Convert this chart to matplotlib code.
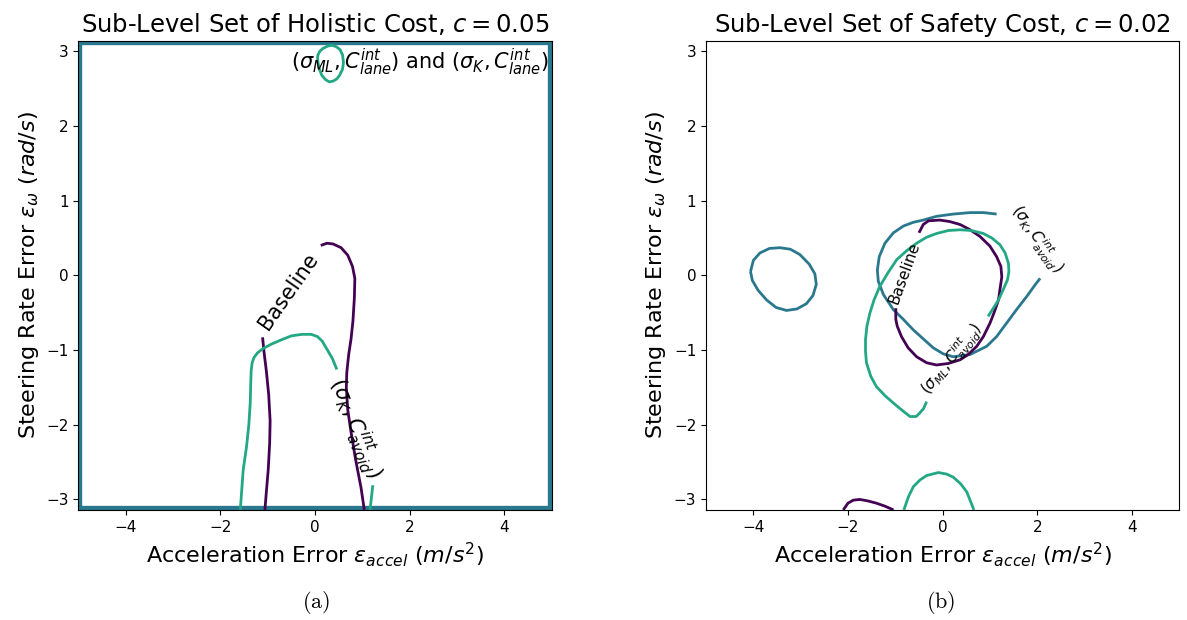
import numpy as np
import matplotlib
matplotlib.use("Agg")
import matplotlib.pyplot as plt

# ── Colours (viridis levels) ──────────────────────────────────────────────────
C_BASE = "#440154"   # Baseline
C_K = "#2a788e"      # sigma_K
C_ML = "#22a884"     # sigma_ML

XLIM = (-5, 5)
YLIM = (-np.pi, np.pi)

# ── (a) Holistic cost, c = 0.05 ───────────────────────────────────────────────
a_base1_x = [-1.06, -1.03, -0.99, -0.96, -0.95, -0.98, -1.03, -1.08, -1.11]
a_base1_y = [-3.14, -2.90, -2.60, -2.25, -1.95, -1.60, -1.28, -1.02, -0.83]
a_base2_x = [0.12, 0.25, 0.38, 0.55, 0.69, 0.79, 0.84, 0.83, 0.80, 0.76,
             0.71, 0.67, 0.66, 0.69, 0.76, 0.86, 0.97, 1.04]
a_base2_y = [0.40, 0.43, 0.42, 0.37, 0.27, 0.12, -0.04, -0.30, -0.61, -0.85,
             -1.06, -1.30, -1.50, -1.80, -2.10, -2.48, -2.84, -3.14]

a_green1_x = [-1.58, -1.52, -1.45, -1.40, -1.37, -1.36, -1.35, -1.33, -1.29, -1.22,
              -1.10, -0.92, -0.70, -0.50, -0.28, -0.08, 0.05, 0.15, 0.27, 0.37, 0.46]
a_green1_y = [-3.14, -2.61, -2.30, -2.00, -1.70, -1.45, -1.27, -1.17, -1.10, -1.04,
              -0.98, -0.92, -0.86, -0.81, -0.79, -0.79, -0.82, -0.88, -1.01, -1.12, -1.26]
a_green2_x = [1.22, 1.19, 1.16]
a_green2_y = [-2.81, -2.98, -3.14]

a_loop_x = [0.05, 0.08, 0.14, 0.22, 0.30, 0.38, 0.46, 0.52, 0.58, 0.60, 0.58,
            0.53, 0.45, 0.36, 0.27, 0.17, 0.10, 0.06, 0.05]
a_loop_y = [2.90, 2.78, 2.68, 2.62, 2.59, 2.60, 2.63, 2.68, 2.76, 2.85, 2.95,
            3.02, 3.06, 3.08, 3.07, 3.04, 3.00, 2.95, 2.90]

# teal contour sits on the domain boundary
a_box_x = [-5, 5, 5, -5, -5]
a_box_y = [-np.pi, -np.pi, np.pi, np.pi, -np.pi]

# ── (b) Safety cost, c = 0.02 ─────────────────────────────────────────────────
b_kloop_x = [-4.06, -4.00, -3.86, -3.66, -3.44, -3.22, -3.02, -2.82, -2.70, -2.67,
             -2.74, -2.88, -3.08, -3.30, -3.52, -3.72, -3.90, -4.02, -4.06]
b_kloop_y = [0.05, 0.20, 0.30, 0.36, 0.37, 0.35, 0.28, 0.15, 0.02, -0.12,
             -0.27, -0.38, -0.45, -0.47, -0.43, -0.33, -0.20, -0.07, 0.05]

b_k_x = [1.14, 0.86, 0.58, 0.22, -0.13, -0.41, -0.62, -0.83, -1.04, -1.22,
         -1.34, -1.38, -1.36, -1.25, -1.04, -0.83, -0.62, -0.41, -0.20, 0.01,
         0.22, 0.58, 0.93, 1.14, 1.35, 1.56, 1.78, 1.95, 2.06]
b_k_y = [0.82, 0.84, 0.84, 0.82, 0.79, 0.74, 0.71, 0.66, 0.57, 0.43,
         0.25, 0.07, -0.08, -0.26, -0.46, -0.59, -0.73, -0.85, -0.97, -1.05,
         -1.09, -1.06, -0.95, -0.82, -0.64, -0.46, -0.28, -0.13, -0.04]

b_base_x = [-0.50, -0.41, -0.30, -0.06, 0.15, 0.37, 0.58, 0.79, 1.00, 1.14,
            1.23, 1.25, 1.21, 1.18, 1.08, 1.00, 0.86, 0.72, 0.54, 0.37,
            0.12, -0.13, -0.34, -0.55, -0.73, -0.87, -0.96, -0.99, -0.99]
b_base_y = [0.57, 0.68, 0.73, 0.74, 0.72, 0.68, 0.61, 0.52, 0.39, 0.25,
            0.12, -0.02, -0.19, -0.33, -0.51, -0.64, -0.82, -0.95, -1.06, -1.13,
            -1.18, -1.20, -1.17, -1.09, -0.97, -0.82, -0.68, -0.59, -0.44]

b_ml_x = [0.96, 1.07, 1.18, 1.28, 1.37, 1.40, 1.39, 1.32, 1.21, 1.04,
          0.86, 0.61, 0.37, 0.12, -0.13, -0.34, -0.55, -0.76, -0.97, -1.15,
          -1.33, -1.45, -1.54, -1.60, -1.63, -1.63, -1.61, -1.52, -1.40, -1.22,
          -1.04, -0.87, -0.69, -0.56, -0.48, -0.40, -0.34]
b_ml_y = [-0.55, -0.44, -0.33, -0.19, -0.06, 0.05, 0.16, 0.30, 0.41, 0.50,
          0.56, 0.60, 0.61, 0.60, 0.56, 0.51, 0.43, 0.33, 0.21, 0.04,
          -0.15, -0.33, -0.51, -0.68, -0.86, -1.02, -1.17, -1.35, -1.49, -1.61,
          -1.71, -1.80, -1.89, -1.89, -1.84, -1.78, -1.69]

b_base_bot_x = [-2.10, -2.00, -1.89, -1.75, -1.58, -1.40, -1.22, -1.04]
b_base_bot_y = [-3.14, -3.05, -3.01, -3.00, -3.02, -3.05, -3.09, -3.14]

b_ml_bot_x = [-0.82, -0.72, -0.62, -0.48, -0.34, -0.09, 0.08, 0.22, 0.38, 0.51, 0.66]
b_ml_bot_y = [-3.14, -2.96, -2.83, -2.74, -2.68, -2.64, -2.66, -2.70, -2.79, -2.90, -3.14]

LBL_K_AVOID = r"$(\sigma_K, C^{int}_{avoid})$"
LBL_ML_AVOID = r"$(\sigma_{ML}, C^{int}_{avoid})$"
LBL_LANE = r"$(\sigma_{ML}, C^{int}_{lane})$ and $(\sigma_K, C^{int}_{lane})$"

# ── Plot ──────────────────────────────────────────────────────────────────────
fig = plt.figure(figsize=(11.87, 6.2), dpi=100)
ax_a = fig.add_axes([0.0661, 0.1774, 0.3987, 0.757])
ax_b = fig.add_axes([0.5948, 0.1774, 0.3987, 0.757])

LW = 2.0
line_kw = dict(lw=LW, solid_joinstyle="round", solid_capstyle="butt")

# (a)
ax_a.plot(a_box_x, a_box_y, color=C_K, lw=6, solid_joinstyle="miter")
ax_a.plot(a_base1_x, a_base1_y, color=C_BASE, **line_kw)
ax_a.plot(a_base2_x, a_base2_y, color=C_BASE, **line_kw)
ax_a.plot(a_green1_x, a_green1_y, color=C_ML, **line_kw)
ax_a.plot(a_green2_x, a_green2_y, color=C_ML, **line_kw)
ax_a.plot(a_loop_x, a_loop_y, color=C_ML, **line_kw)

ax_a.text(-0.57, -0.21, "Baseline", rotation=55, fontsize=15,
          ha="center", va="center")
ax_a.text(0.84, -2.04, LBL_K_AVOID, rotation=-68, fontsize=15,
          ha="center", va="center")
ax_a.text(2.22, 2.85, LBL_LANE, fontsize=15, ha="center", va="center")

ax_a.set_title(r"Sub-Level Set of Holistic Cost, $c = 0.05$", fontsize=17.5)

# (b)
ax_b.plot(b_kloop_x, b_kloop_y, color=C_K, **line_kw)
ax_b.plot(b_k_x, b_k_y, color=C_K, **line_kw)
ax_b.plot(b_base_x, b_base_y, color=C_BASE, **line_kw)
ax_b.plot(b_ml_x, b_ml_y, color=C_ML, **line_kw)
ax_b.plot(b_base_bot_x, b_base_bot_y, color=C_BASE, **line_kw)
ax_b.plot(b_ml_bot_x, b_ml_bot_y, color=C_ML, **line_kw)

ax_b.text(-0.80, 0.03, "Baseline", rotation=70, fontsize=11,
          ha="center", va="center")
ax_b.text(1.99, 0.48, LBL_K_AVOID, rotation=-55, fontsize=11,
          ha="center", va="center")
ax_b.text(0.19, -1.12, LBL_ML_AVOID, rotation=51, fontsize=11,
          ha="center", va="center")

ax_b.set_title(r"Sub-Level Set of Safety Cost, $c = 0.02$", fontsize=17.5)

for ax in (ax_a, ax_b):
    ax.set_xlim(*XLIM)
    ax.set_ylim(*YLIM)
    ax.set_xticks([-4, -2, 0, 2, 4])
    ax.set_yticks([-3, -2, -1, 0, 1, 2, 3])
    ax.tick_params(labelsize=11)
    ax.set_xlabel(r"Acceleration Error $\epsilon_{accel}$ $(m/s^2)$", fontsize=16)
    ax.set_ylabel(r"Steering Rate Error $\epsilon_{\omega}$ $(rad/s)$", fontsize=16)
    for sp in ax.spines.values():
        sp.set_zorder(5)

fig.text(316 / 1187, 1 - 602 / 620, r"$\mathrm{(a)}$", fontsize=16,
         math_fontfamily="cm", ha="center", va="center")
fig.text(941 / 1187, 1 - 602 / 620, r"$\mathrm{(b)}$", fontsize=16,
         math_fontfamily="cm", ha="center", va="center")

fig.savefig("out.png", dpi=100)
plt.close()
